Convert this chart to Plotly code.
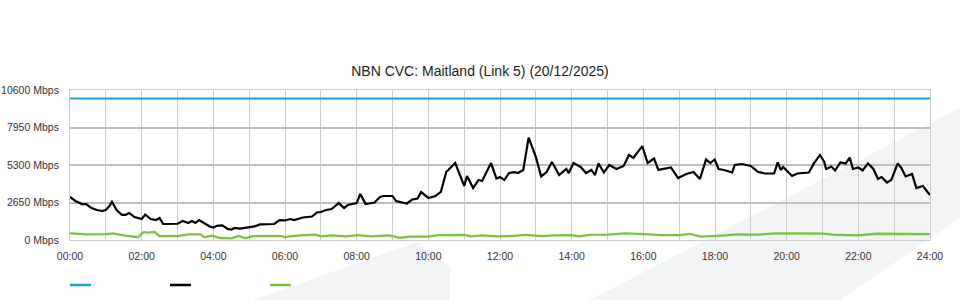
import plotly.graph_objects as go

# ---- data (hours since 00:00, Mbps) ----
capacity_hours = [0, 24]
capacity_mbps = [10000, 10000]

download_hours = [0.00, 0.15, 0.33, 0.45, 0.6, 0.75, 0.9, 1.0, 1.1, 1.17, 1.3, 1.45, 1.55, 1.65, 1.8,
                  2.0, 2.1, 2.25, 2.4, 2.5, 2.6, 2.75, 2.9, 3.0, 3.15, 3.3, 3.4, 3.5, 3.6, 3.75, 3.9,
                  4.0, 4.1, 4.25, 4.4, 4.5, 4.6, 4.75, 4.9, 5.0, 5.15, 5.3, 5.5, 5.7, 5.85, 6.0, 6.15,
                  6.25, 6.5, 6.75, 6.9, 7.0, 7.15, 7.3, 7.5, 7.65, 7.75, 8.0, 8.1, 8.25, 8.5, 8.65,
                  8.75, 9.0, 9.1, 9.25, 9.4, 9.55, 9.7, 9.8, 10.0, 10.2, 10.35, 10.5, 10.6, 10.75,
                  11.0, 11.08, 11.25, 11.4, 11.5, 11.75, 11.9, 12.0, 12.12, 12.25, 12.4, 12.5, 12.65,
                  12.8, 13.0, 13.15, 13.3, 13.45, 13.65, 13.85, 13.92, 14.05, 14.25, 14.4, 14.55,
                  14.65, 14.75, 14.9, 15.05, 15.25, 15.45, 15.6, 15.72, 15.85, 15.97, 16.12, 16.3,
                  16.42, 16.6, 16.77, 16.97, 17.2, 17.4, 17.58, 17.75, 17.87, 17.99, 18.1, 18.25,
                  18.48, 18.55, 18.75, 19.0, 19.2, 19.4, 19.65, 19.75, 19.84, 19.9, 20.15, 20.3,
                  20.62, 20.76, 20.93, 21.05, 21.1, 21.25, 21.35, 21.5, 21.65, 21.76, 21.85, 22.0,
                  22.12, 22.27, 22.42, 22.55, 22.65, 22.8, 22.92, 23.1, 23.2, 23.32, 23.5, 23.62,
                  23.8, 23.92, 24.0]
download_mbps = [3040, 2760, 2540, 2540, 2260, 2120, 2050, 2120, 2400, 2700, 2120, 1770, 1770, 1910, 1620,
                 1480, 1800, 1480, 1410, 1550, 1130, 1130, 1100, 1150, 1340, 1200, 1340, 1200, 1410, 1200, 950,
                 880, 1000, 1030, 780, 740, 850, 810, 880, 880, 960, 1100, 1100, 1130, 1410, 1380, 1480,
                 1410, 1590, 1660, 1950, 1980, 2120, 2190, 2610, 2260, 2470, 2610, 3250, 2540, 2650, 3040,
                 3110, 3110, 2750, 2650, 2580, 2860, 2930, 3390, 2970, 3110, 3400, 4800, 5060, 5440,
                 3820, 4520, 3670, 4240, 4170, 5440, 4350, 4450, 4240, 4730, 4800, 4730, 4950,
                 7240, 5870, 4490, 4800, 5510, 4590, 5020, 4730, 5440, 5160, 4730, 4950,
                 4590, 5410, 4770, 5300, 5020, 5230, 6010, 5800, 6230, 6640, 5440, 5760,
                 4950, 5060, 5130, 4380, 4660, 4810, 4310, 5690, 5440, 5690, 5020, 4950,
                 4770, 5300, 5370, 5230, 4810, 4700, 4700, 5480, 4950, 5160, 4520, 4700,
                 4770, 5410, 6010, 5510, 5020, 5190, 4910, 5480, 5410, 5830, 5020, 5120,
                 4910, 5410, 5020, 4310, 4450, 4060, 4240, 5410, 5090, 4490, 4660, 3670,
                 3820, 3430, 3180]

upload_hours = [0, 0.5, 1.0, 1.2, 1.5, 1.75, 1.9, 2.05, 2.2, 2.35, 2.5, 3.0, 3.3, 3.65, 3.75, 3.95,
                4.2, 4.5, 4.7, 4.9, 5.1, 5.9, 6.0, 6.2, 6.5, 6.85, 7.0, 7.3, 7.7, 8.05, 8.4, 8.9,
                9.2, 9.5, 10.0, 10.3, 11.0, 11.2, 11.5, 11.9, 12.3, 12.7, 13.2, 13.5, 14.0, 14.2,
                14.5, 15.0, 15.5, 16.0, 16.5, 17.0, 17.3, 17.6, 18.0, 18.3, 18.6, 19.2, 19.7, 20.0,
                20.3, 20.6, 21.0, 21.3, 21.7, 22.0, 22.5, 23.0, 23.5, 24.0]
upload_mbps = [470, 400, 420, 470, 330, 230, 200, 560, 520, 580, 280, 280, 400, 400, 190, 300,
               140, 120, 280, 140, 280, 280, 210, 280, 350, 370, 260, 330, 260, 350, 250, 330,
               160, 240, 240, 350, 360, 260, 330, 260, 280, 360, 270, 330, 340, 260,
               360, 380, 470, 420, 350, 350, 430, 240, 270, 330, 400, 380, 470, 460,
               420, 460, 450, 380, 350, 330, 440, 450, 420, 420]

x_tick_hours = [0, 2, 4, 6, 8, 10, 12, 14, 16, 18, 20, 22, 24]
x_tick_labels = ["00:00", "02:00", "04:00", "06:00", "08:00", "10:00", "12:00",
                 "14:00", "16:00", "18:00", "20:00", "22:00", "24:00"]
y_tick_values = [0, 2650, 5300, 7950, 10600]
y_tick_labels = ["0 Mbps", "2650 Mbps", "5300 Mbps", "7950 Mbps", "10600 Mbps"]

title_text = "NBN CVC: Maitland (Link 5) (20/12/2025)"

BLUE = "#1aa0e8"
BLACK = "#000000"
GREEN = "#7cc242"
FONT = "Liberation Sans, Arial, sans-serif"

fig = go.Figure()
fig.add_trace(go.Scatter(x=capacity_hours, y=capacity_mbps, mode="lines", name="Capacity",
                         line=dict(color=BLUE, width=2)))
fig.add_trace(go.Scatter(x=upload_hours, y=upload_mbps, mode="lines", name="Upload",
                         line=dict(color=GREEN, width=2.3)))
fig.add_trace(go.Scatter(x=download_hours, y=download_mbps, mode="lines", name="Download",
                         line=dict(color=BLACK, width=2.2)))

shapes = [
    # faint background watermark
    dict(type="path", xref="paper", yref="paper", layer="below",
         path="M %f %f L %f %f L %f %f L %f %f Z" % ((253 - 70) / 860, (240 - 300) / 150,
                                                     (417 - 70) / 860, (240 - 242) / 150,
                                                     (450 - 70) / 860, (240 - 267) / 150,
                                                     (450 - 70) / 860, (240 - 300) / 150),
         fillcolor="#f3f4f6", line=dict(width=0)),
    dict(type="path", xref="paper", yref="paper", layer="below",
         path="M %f %f L %f %f L %f %f L %f %f Z" % ((590 - 70) / 860, (240 - 300) / 150,
                                                     (960 - 70) / 860, (240 - 108) / 150,
                                                     (960 - 70) / 860, (240 - 218) / 150,
                                                     (840 - 70) / 860, (240 - 300) / 150),
         fillcolor="#f3f4f6", line=dict(width=0)),
]
# legend swatches (no text in the reference)
for x0, col in [(70, BLUE), (170, BLACK), (270, GREEN)]:
    shapes.append(dict(type="line", xref="paper", yref="paper",
                       x0=(x0 - 70) / 860, x1=(x0 + 21 - 70) / 860,
                       y0=(240 - 285) / 150, y1=(240 - 285) / 150,
                       line=dict(color=col, width=2.5)))

fig.update_layout(
    width=960, height=300,
    margin=dict(l=70, r=30, t=90, b=60),
    paper_bgcolor="white",
    plot_bgcolor="rgba(0,0,0,0)",
    showlegend=False,
    font=dict(family=FONT, size=10.5, color="#333333"),
    title=dict(text=title_text, x=0.5, xref="container", xanchor="center",
               y=1 - 71 / 300, yref="container", yanchor="middle",
               font=dict(family=FONT, size=14, color="#222222")),
    shapes=shapes,
)
fig.update_xaxes(
    range=[0, 24], tickmode="array", tickvals=x_tick_hours, ticktext=x_tick_labels,
    showgrid=True, gridcolor="#cccccc", gridwidth=1,
    minor=dict(dtick=1, showgrid=True, gridcolor="#cccccc", gridwidth=1),
    zeroline=False, showline=True, linecolor="#cccccc", linewidth=1, mirror=True,
    ticks="outside", ticklen=6, tickcolor="rgba(0,0,0,0)", automargin=False,
    tickfont=dict(family=FONT, size=10.5, color="#333333"),
)
fig.update_yaxes(
    range=[0, 10600], tickmode="array", tickvals=y_tick_values, ticktext=y_tick_labels,
    showgrid=True, gridcolor="#bdbdbd", gridwidth=2,
    zeroline=True, zerolinecolor="#bdbdbd", zerolinewidth=2,
    showline=True, linecolor="#cccccc", linewidth=1, mirror=True,
    ticks="outside", ticklen=8, tickcolor="rgba(0,0,0,0)", automargin=False,
    tickfont=dict(family=FONT, size=10.5, color="#333333"),
)

fig.write_html("out.html")
